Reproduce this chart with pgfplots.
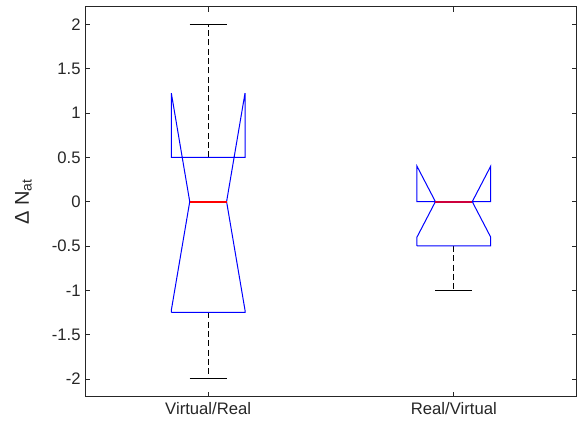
\documentclass[border=0pt]{standalone}
\usepackage{pgfplots}
\pgfplotsset{compat=1.18}
\usepackage{fontspec}
\setmainfont{Liberation Sans}
\definecolor{axisgray}{RGB}{38,38,38}
\definecolor{medred}{RGB}{255,0,0}
\definecolor{medred2}{RGB}{205,0,60}
\definecolor{boxblue}{RGB}{0,0,255}
\begin{document}
\begin{tikzpicture}
\begin{axis}[
  scale only axis,
  width=368.5pt, height=292.5pt,
  xmin=0.5, xmax=2.5, ymin=-2.2, ymax=2.2,
  xtick={1,2}, xticklabels={Virtual/Real, Real/Virtual},
  ytick={-2,-1.5,...,2},
  yticklabel style={/pgf/number format/fixed},
  /pgf/number format/assume math mode=true,
  tick align=inside,
  major tick length=3.7pt,
  axis line style={axisgray, line width=0.6pt},
  tick style={axisgray, line width=0.6pt},
  ticklabel style={font=\fontsize{12.5}{14}\selectfont, text=axisgray},
  xticklabel style={yshift=-1pt},
  ylabel={Δ N\textsubscript{at}},
  ylabel style={at={(axis description cs:-0.126,0.5)}, anchor=center,
    font=\fontsize{15}{17}\selectfont, text=axisgray},
  clip=false,
]
% whiskers
\addplot[draw=black, line width=0.75pt, dash pattern=on 4.5pt off 2.5pt] coordinates {(1,0.5) (1,2)};
\addplot[draw=black, line width=0.75pt, dash pattern=on 4.5pt off 2.5pt] coordinates {(1,-1.25) (1,-2)};
\addplot[draw=black, line width=0.75pt, dash pattern=on 4.5pt off 2.5pt] coordinates {(2,-0.5) (2,-1)};
% whisker caps
\addplot[draw=black, line width=0.75pt] coordinates {(0.925,2) (1.075,2)};
\addplot[draw=black, line width=0.75pt] coordinates {(0.925,-2) (1.075,-2)};
\addplot[draw=black, line width=0.75pt] coordinates {(1.925,-1) (2.075,-1)};
\addplot[draw=black, line width=0.75pt] coordinates {(1.925,0) (2.075,0)};
% notched boxes
\addplot[draw=boxblue, line width=0.75pt, line join=miter] coordinates {
  (0.85,-1.25) (0.85,-1.225) (0.925,0) (0.85,1.225) (0.85,0.5)
  (1.15,0.5) (1.15,1.225) (1.075,0) (1.15,-1.225) (1.15,-1.25) (0.85,-1.25)};
\addplot[draw=boxblue, line width=0.75pt, line join=miter] coordinates {
  (1.85,-0.5) (1.85,-0.4) (1.925,0) (1.85,0.4) (1.85,0)
  (2.15,0) (2.15,0.4) (2.075,0) (2.15,-0.4) (2.15,-0.5) (1.85,-0.5)};
% medians
\addplot[draw=medred, line width=1.4pt] coordinates {(0.925,0.0) (1.075,0.0)};
\addplot[draw=medred2, line width=1.4pt] coordinates {(1.925,0.0) (2.075,0.0)};
\end{axis}
\pgfresetboundingbox
\path[use as bounding box] ([xshift=-64pt,yshift=-19.75pt]current axis.south west)
  rectangle ([xshift=4pt,yshift=5pt]current axis.north east);
\end{tikzpicture}
\end{document}
